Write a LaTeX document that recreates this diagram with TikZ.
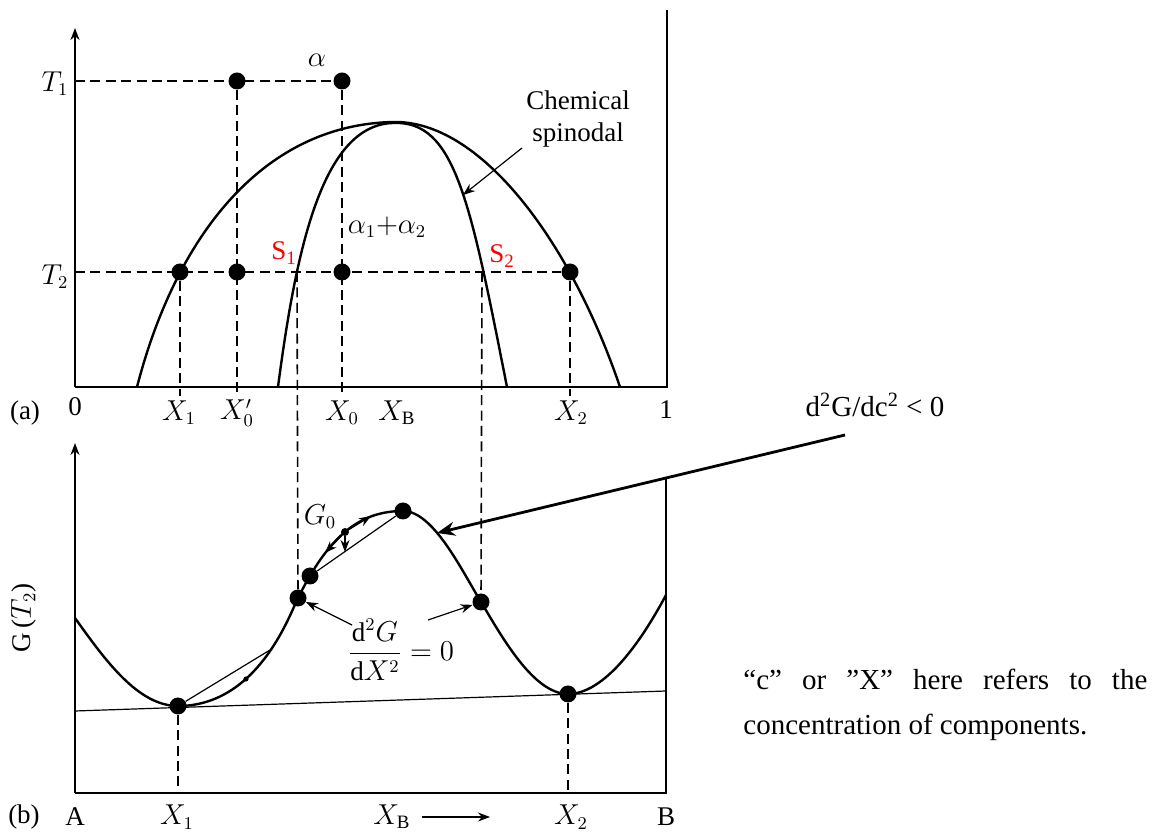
\documentclass[tikz,border=0pt]{standalone}
\usepackage{amsmath}
\usepackage{fontspec}
\setmainfont{Liberation Serif}
\usepackage{tikz}
\usetikzlibrary{arrows.meta}
\definecolor{spinred}{HTML}{FF0000}

\begin{document}
\begin{tikzpicture}[x=0.5pt,y=-0.5pt,
  dot/.style={circle,fill,inner sep=0pt,minimum size=8.5pt},
  smalldot/.style={circle,fill,inner sep=0pt,minimum size=#1},
  guide/.style={dash pattern=on 5pt off 2.7pt,line width=0.8pt},
  curve/.style={line width=1.2pt},
  frame/.style={line width=1pt},
  thinline/.style={line width=0.6pt},
  lbl/.style={font=\fontsize{13.5}{16}\selectfont},
  note/.style={font=\fontsize{14.5}{22.5}\selectfont},
  >={Stealth[length=6pt,width=4.5pt]}]
  \useasboundingbox (0,0) rectangle (1152,833);

  \draw[frame,->] (75,387) -- (75,28); \draw[frame] (75,387) -- (667,387) -- (667,10);
  \draw[curve] (137,387) .. controls (175,240) and (260,125) .. (393,122) .. controls (480,120) and (570,240) .. (620,387);
  \draw[curve] (278,387) .. controls (296,250) and (322,125) .. (393,123) .. controls (455,120) and (470,200) .. (507,387);
  \coordinate (t1) at (75,81); \coordinate (t2) at (75,272); \coordinate (abase) at (0,396);
  \node[dot] (a1) at (237,81) {}; \node[dot] (a2) at (342,81) {};
  \node[dot] (b1) at (180,272) {}; \node[dot] (b2) at (237,272) {};
  \node[dot] (b3) at (342,272) {}; \node[dot] (b4) at (570,272) {};
  \coordinate (s1) at (297,272); \coordinate (s2) at (482,272);
  \draw[guide] (t1) -- (a2); \draw[guide] (t2) -- (b4);
  \draw[guide] (a1) -- (a1 |- abase); \draw[guide] (a2) -- (a2 |- abase);
  \draw[guide] (b1) -- (b1 |- abase); \draw[guide] (b4) -- (b4 |- abase);
  \node[lbl] (alpha) at (317,60) {$\alpha$};
  \node[lbl] (T1) at (55,84) {$T_1$}; \node[lbl] (T2) at (55,277) {$T_2$};
  \node[lbl,text=spinred] (S1) at (284,253) {S\textsubscript{1}};
  \node[lbl,text=spinred] (S2) at (502,256) {S\textsubscript{2}};
  \node[lbl] (a12) at (387,227) {$\alpha_1{+}\alpha_2$};
  \node[lbl,align=center] (chem) at (578,119) {Chemical\\spinodal};
  \coordinate (chemtail) at (522,148); \coordinate (chemtip) at (463,195);
  \draw[thinline,->] (chemtail) -- (chemtip);
  \node[lbl] (pa) at (25,413) {(a)}; \node[lbl] (zero) at (75,407) {0};
  \node[lbl] (x1a) at (179,413) {$X_1$}; \node[lbl] (x0pa) at (237,413) {$X'_0$};
  \node[lbl] (x0a) at (342,413) {$X_0$}; \node[lbl] (xba) at (397,413) {$X_\mathrm{B}$};
  \node[lbl] (x2a) at (571,413) {$X_2$}; \node[lbl] (one) at (666,410) {1};

  \draw[frame,->] (75,793) -- (75,443); \draw[frame] (75,793) -- (666,793) -- (666,478);
  \coordinate (tl) at (75,711); \coordinate (tr) at (666,691); \draw[thinline] (tl) -- (tr);
  \draw[curve] (75,618) .. controls (105,660) and (138,706) .. (178,706)
    .. controls (258,706) and (290,614) .. (298,598)
    .. controls (328,538) and (358,511) .. (403,511)
    .. controls (433,511) and (461,569) .. (481,602)
    .. controls (501,635) and (533,694) .. (568,694)
    .. controls (610,694) and (650,625) .. (666,595);
  \coordinate (bbase) at (0,793);
  \node[dot] (gx1) at (178,706) {}; \node[dot] (gx2) at (568,694) {};
  \node[dot] (g1) at (298,598) {}; \node[dot] (g4) at (481,602) {};
  \node[dot] (gd) at (310,576) {}; \node[dot] (gm) at (403,511) {};
  \node[smalldot=4pt] (g0) at (345,532) {}; \node[smalldot=2.6pt] (gs) at (246,679) {};
  \draw[guide] (s1) -- (g1); \draw[guide] (s2) -- (g4);
  \draw[guide] (gx1) -- (gx1 |- bbase); \draw[guide] (gx2) -- (gx2 |- bbase);
  \coordinate (gc) at (270,650); \draw[thinline] (gx1) -- (gc); \draw[thinline] (gm) -- (gd);
  \coordinate (ga) at (371,516); \coordinate (gb) at (325,553); \coordinate (gv) at (345,552);
  \draw[thinline,->] (g0) -- (ga); \draw[thinline,->] (g0) -- (gb); \draw[thinline,->] (g0) -- (gv);
  \node[lbl] (G0) at (320,517) {$G_0$};
  \node[lbl] (d2g) at (401,650) {$\dfrac{\mathrm{d}^2G}{\mathrm{d}X^2}=0$};
  \coordinate (dl) at (352,625); \coordinate (dr) at (428,620);
  \draw[thinline,->] (dl) -- (g1); \draw[thinline,->] (dr) -- (g4);
  \node[lbl,rotate=90] (gy) at (24,618) {G\,($T_2$)};
  \node[lbl] (pb) at (24,817) {(b)}; \node[lbl] (A) at (75,817) {A};
  \node[lbl] (x1b) at (177,817) {$X_1$}; \node[lbl] (xbb) at (392,817) {$X_\mathrm{B}$};
  \coordinate (xa) at (422,817); \coordinate (xe) at (490,817); \draw[thinline,->] (xa) -- (xe);
  \node[lbl] (x2b) at (571,817) {$X_2$}; \node[lbl] (B) at (666,817) {B};

  \node[note] (neg) at (875,405) {d\textsuperscript{2}G/dc\textsuperscript{2} < 0};
  \coordinate (negtail) at (845,435); \coordinate (negtip) at (437,533);
  \draw[-{Stealth[length=9pt,width=7pt]},line width=1.4pt] (negtail) -- (negtip);
  \node[note,text width=202pt,align=justify,anchor=west,inner sep=0pt] (conc) at (743,705)
    {\tolerance=10000 “c” or ”X” here refers to the \mbox{concentration} of components.};
\end{tikzpicture}
\end{document}
